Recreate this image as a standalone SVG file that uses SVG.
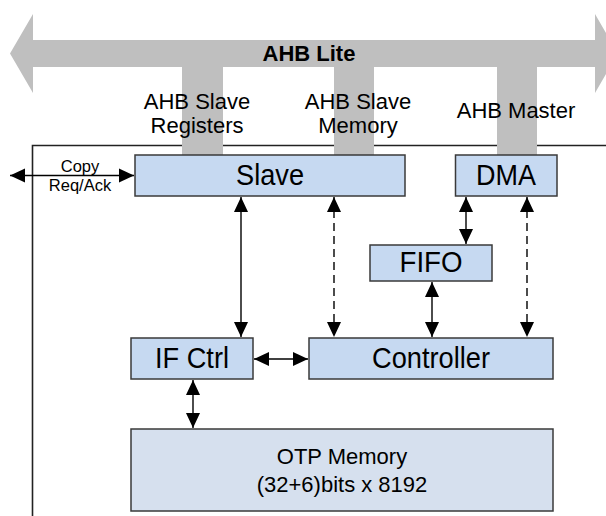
<svg xmlns="http://www.w3.org/2000/svg" width="606" height="516" viewBox="0 0 606 516">
<style>
.box{fill:#c6d9f1;stroke:#3a3a3a;stroke-width:1.5}
.otp{fill:#d6e0ee;stroke:#3a3a3a;stroke-width:1.5}
.bus{fill:#bfbfbf;stroke:none}
.lbl{font-family:"Liberation Sans",Arial,sans-serif;fill:#000;text-anchor:middle}
.big{font-size:29px}
.mid{font-size:22px}
.sm{font-size:16.5px}
.conn{stroke:#000;stroke-width:1.4;fill:none;marker-start:url(#ah);marker-end:url(#ah)}
.dash{stroke-dasharray:8 5}
</style>
<defs>
<marker id="ah" markerUnits="userSpaceOnUse" markerWidth="15" markerHeight="15" viewBox="0 0 15 15" refX="15" refY="7.5" orient="auto-start-reverse">
<path d="M0,0.5 L15,7.5 L0,14.5 z" fill="#000"/>
</marker>
</defs>
<rect width="606" height="516" fill="#fff"/>
<g id="frame">
<path d="M32.5,516 V145.5 H606" fill="none" stroke="#222" stroke-width="1.6"/>
</g>
<g id="bus">
<polygon class="bus" points="10,53.5 33,14 33,40 595,40 595,14 618,53.5 595,93 595,67 33,67 33,93"/>
<rect class="bus" x="182" y="66" width="41" height="89"/>
<rect class="bus" x="334" y="66" width="40" height="89"/>
<rect class="bus" x="497" y="66" width="40" height="89"/>
<text class="lbl" x="309" y="61" font-size="22" font-weight="bold">AHB Lite</text>
<text class="lbl mid" x="197" y="109">AHB Slave</text>
<text class="lbl mid" x="197" y="133">Registers</text>
<text class="lbl mid" x="358" y="109">AHB Slave</text>
<text class="lbl mid" x="358" y="133">Memory</text>
<text class="lbl mid" x="516" y="118">AHB Master</text>
</g>
<g id="slave">
<rect class="box" x="135" y="155" width="270" height="41"/>
<text class="lbl big" x="270" y="185" textLength="68" lengthAdjust="spacingAndGlyphs">Slave</text>
</g>
<g id="dma">
<rect class="box" x="455.5" y="155" width="101.5" height="41"/>
<text class="lbl big" x="506" y="185" textLength="60" lengthAdjust="spacingAndGlyphs">DMA</text>
</g>
<g id="fifo">
<rect class="box" x="370" y="245" width="122" height="36"/>
<text class="lbl big" x="431" y="272" textLength="63" lengthAdjust="spacingAndGlyphs">FIFO</text>
</g>
<g id="ifctrl">
<rect class="box" x="131" y="338" width="122" height="41"/>
<text class="lbl big" x="192" y="368" textLength="74" lengthAdjust="spacingAndGlyphs">IF Ctrl</text>
</g>
<g id="controller">
<rect class="box" x="309" y="338" width="244" height="41"/>
<text class="lbl big" x="431" y="368" textLength="118" lengthAdjust="spacingAndGlyphs">Controller</text>
</g>
<g id="otp">
<rect class="otp" x="131" y="429" width="422" height="82"/>
<text class="lbl mid" x="342" y="464">OTP Memory</text>
<text class="lbl mid" x="342" y="492">(32+6)bits x 8192</text>
</g>
<g id="connectors">
<line class="conn" x1="10" y1="175.5" x2="134" y2="175.5"/>
<text class="lbl sm" x="80" y="172">Copy</text>
<text class="lbl sm" x="80" y="191">Req/Ack</text>
<line class="conn" x1="241" y1="197" x2="241" y2="337"/>
<line class="conn dash" x1="334" y1="197" x2="334" y2="337"/>
<line class="conn" x1="466" y1="197" x2="466" y2="244"/>
<line class="conn" x1="432" y1="282" x2="432" y2="337"/>
<line class="conn dash" x1="527" y1="197" x2="527" y2="337"/>
<line class="conn" x1="254" y1="359" x2="308" y2="359"/>
<line class="conn" x1="193" y1="380" x2="193" y2="428"/>
</g>
</svg>
